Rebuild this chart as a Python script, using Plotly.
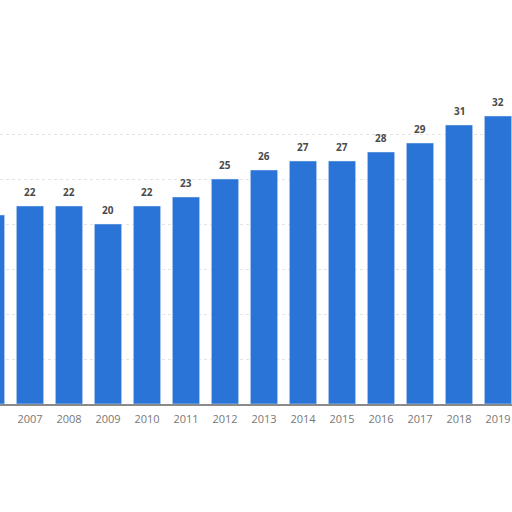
import plotly.graph_objects as go

years = [2006, 2007, 2008, 2009, 2010, 2011, 2012, 2013, 2014, 2015, 2016, 2017, 2018, 2019]
values = [21, 22, 22, 20, 22, 23, 25, 26, 27, 27, 28, 29, 31, 32]
tick_labels = [str(y) for y in years]

fig = go.Figure()
fig.add_trace(go.Bar(x=years, y=values, marker_color="#2a74d8", width=0.7))

for x, v in zip(years, values):
    fig.add_annotation(x=x, y=v, text="<b>%d</b>" % v, showarrow=False, yshift=14,
                       font=dict(size=10, color="#4a4a4a", family="Open Sans"))

fig.update_layout(
    width=512, height=512,
    margin=dict(l=0, r=0, t=44, b=108),
    paper_bgcolor="white", plot_bgcolor="white",
    showlegend=False,
)
fig.update_xaxes(range=[2006.231, 2019.359], tickvals=years, ticktext=tick_labels,
                 showgrid=False, showline=True, linecolor="#8a8a8a", linewidth=2,
                 ticks="", ticklabelstandoff=4,
                 tickfont=dict(size=11, color="#777", family="Open Sans"))
fig.update_yaxes(range=[0, 40], tickvals=[5, 10, 15, 20, 25, 30], showticklabels=False,
                 showgrid=True, gridcolor="#e4e4e4", griddash="dot", zeroline=False)

# drop the default 8px body margin so the chart sits flush with the window
fig.write_html("out.html", config={"displayModeBar": False},
               post_script="document.body.style.margin='0';")
